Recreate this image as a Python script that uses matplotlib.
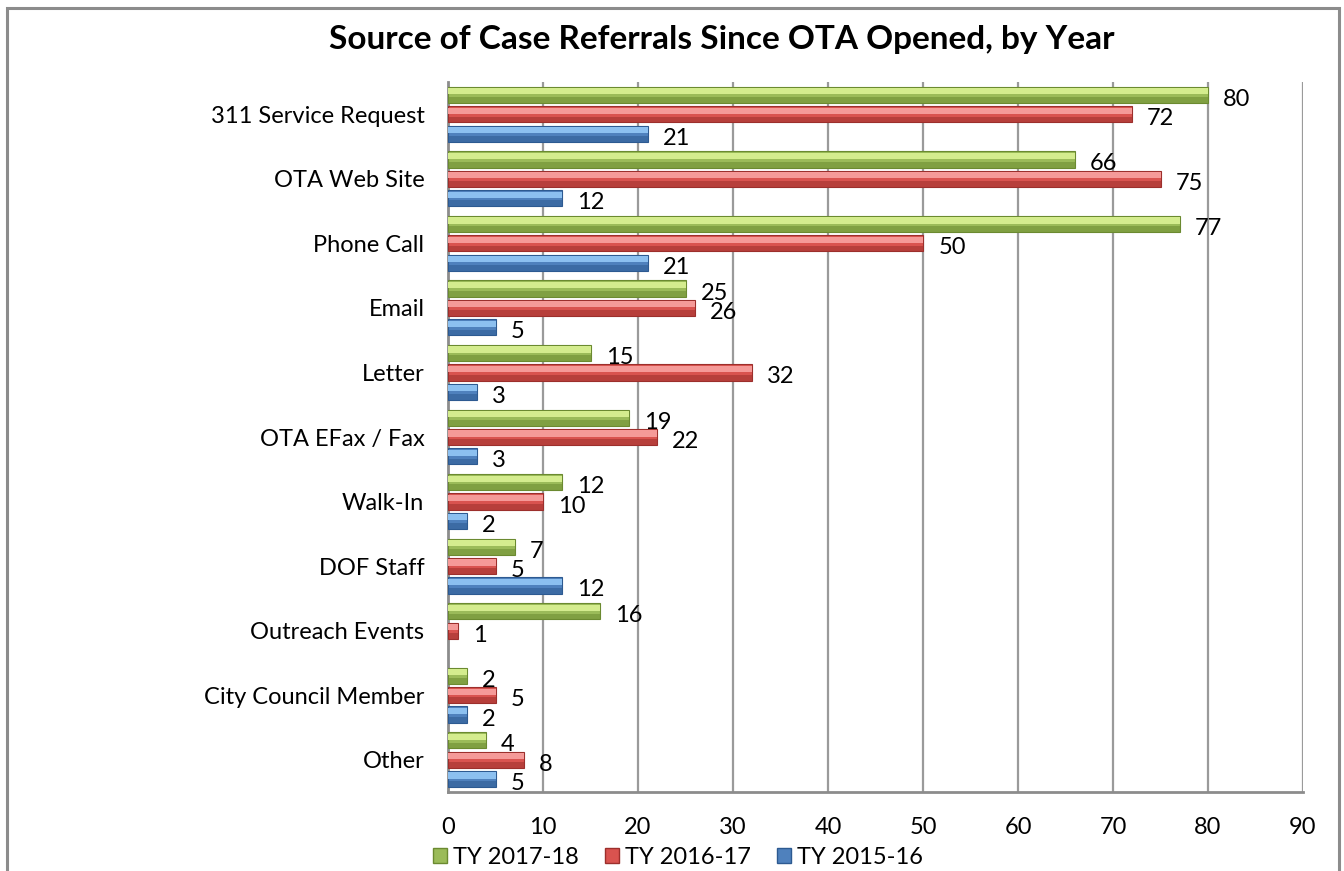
import matplotlib
matplotlib.use("Agg")
import matplotlib.pyplot as plt
from matplotlib.patches import Patch, Rectangle

plt.rcParams["font.family"] = ["Lato", "DejaVu Sans"]

categories = ["311 Service Request", "OTA Web Site", "Phone Call", "Email", "Letter",
              "OTA EFax / Fax", "Walk-In", "DOF Staff", "Outreach Events",
              "City Council Member", "Other"]
ty_2017_18 = [80, 66, 77, 25, 15, 19, 12, 7, 16, 2, 4]
ty_2016_17 = [72, 75, 50, 26, 32, 22, 10, 5, 1, 5, 8]
ty_2015_16 = [21, 12, 21, 5, 3, 3, 2, 12, 0, 2, 5]
x_ticks = [0, 10, 20, 30, 40, 50, 60, 70, 80, 90]

series = [
    # label, values, offset, (light, base, dark)
    ("TY 2017-18", ty_2017_18, -0.3, ("#d4ec8e", "#9bbb59", "#6b8a30")),
    ("TY 2016-17", ty_2016_17, 0.0, ("#f59a98", "#d9534f", "#9c2f2c")),
    ("TY 2015-16", ty_2015_16, 0.3, ("#8cc0f0", "#4f81bd", "#2d5a91")),
]
BAR_H = 0.25
FS = 17

fig = plt.figure(figsize=(13.44, 8.71), dpi=100)
ax = fig.add_axes([448 / 1344, 1 - 792 / 871, 855 / 1344, 710 / 871])

# outer chart border (bottom runs off the picture)
fig.patches.append(Rectangle((7 / 1344, -0.02), 1332 / 1344, 1.02 - 8 / 871,
                             transform=fig.transFigure, fill=False,
                             edgecolor="#8c8c8c", linewidth=2.2, zorder=0))

ys = list(range(len(categories)))
for label, vals, off, (light, base, dark) in series:
    pos = [y + off for y in ys if vals[y] > 0]
    vv = [v for v in vals if v > 0]
    # body with darker edge
    ax.barh(pos, vv, height=BAR_H, color=base, edgecolor=dark, linewidth=0.8, zorder=3)
    # lower dark band
    ax.barh([p + BAR_H * 0.32 for p in pos], vv, height=BAR_H * 0.36,
            color=dark, alpha=0.55, linewidth=0, zorder=4)
    # upper highlight band
    ax.barh([p - BAR_H * 0.22 for p in pos], vv, height=BAR_H * 0.38,
            color=light, linewidth=0, zorder=4)
    for p, v in zip(pos, vv):
        ax.text(v + 1.6, p + 0.07, str(v), va="center", ha="left",
                fontsize=FS, color="black", zorder=5)

ax.set_xlim(0, 90)
ax.set_ylim(len(categories) - 0.5, -0.5)
ax.set_xticks(x_ticks)
ax.set_xticklabels([str(t) for t in x_ticks], fontsize=FS)
ax.set_yticks(ys)
ax.set_yticklabels(categories, fontsize=FS)
ax.tick_params(axis="both", length=0)
ax.tick_params(axis="x", pad=18)
ax.tick_params(axis="y", pad=17)
ax.grid(axis="x", color="#9a9a9a", linewidth=1.6, zorder=0)
ax.set_axisbelow(True)
for side in ["top", "right"]:
    ax.spines[side].set_visible(False)
for side in ["left", "bottom"]:
    ax.spines[side].set_color("#8c8c8c")
    ax.spines[side].set_linewidth(2)

fig.text(722 / 1344, 1 - 40 / 871, "Source of Case Referrals Since OTA Opened, by Year",
         ha="center", va="center", fontsize=24, fontweight="bold")

handles = [Patch(facecolor=c[1], edgecolor=c[2], label=l) for l, _, _, c in series]
fig.legend(handles=handles, loc="center", bbox_to_anchor=(678 / 1344, 1 - 857 / 871),
           ncol=3, frameon=False, fontsize=FS, handlelength=0.6, handleheight=0.6,
           handletextpad=0.25, columnspacing=1.1, borderpad=0)

fig.savefig("out.png", dpi=100)
